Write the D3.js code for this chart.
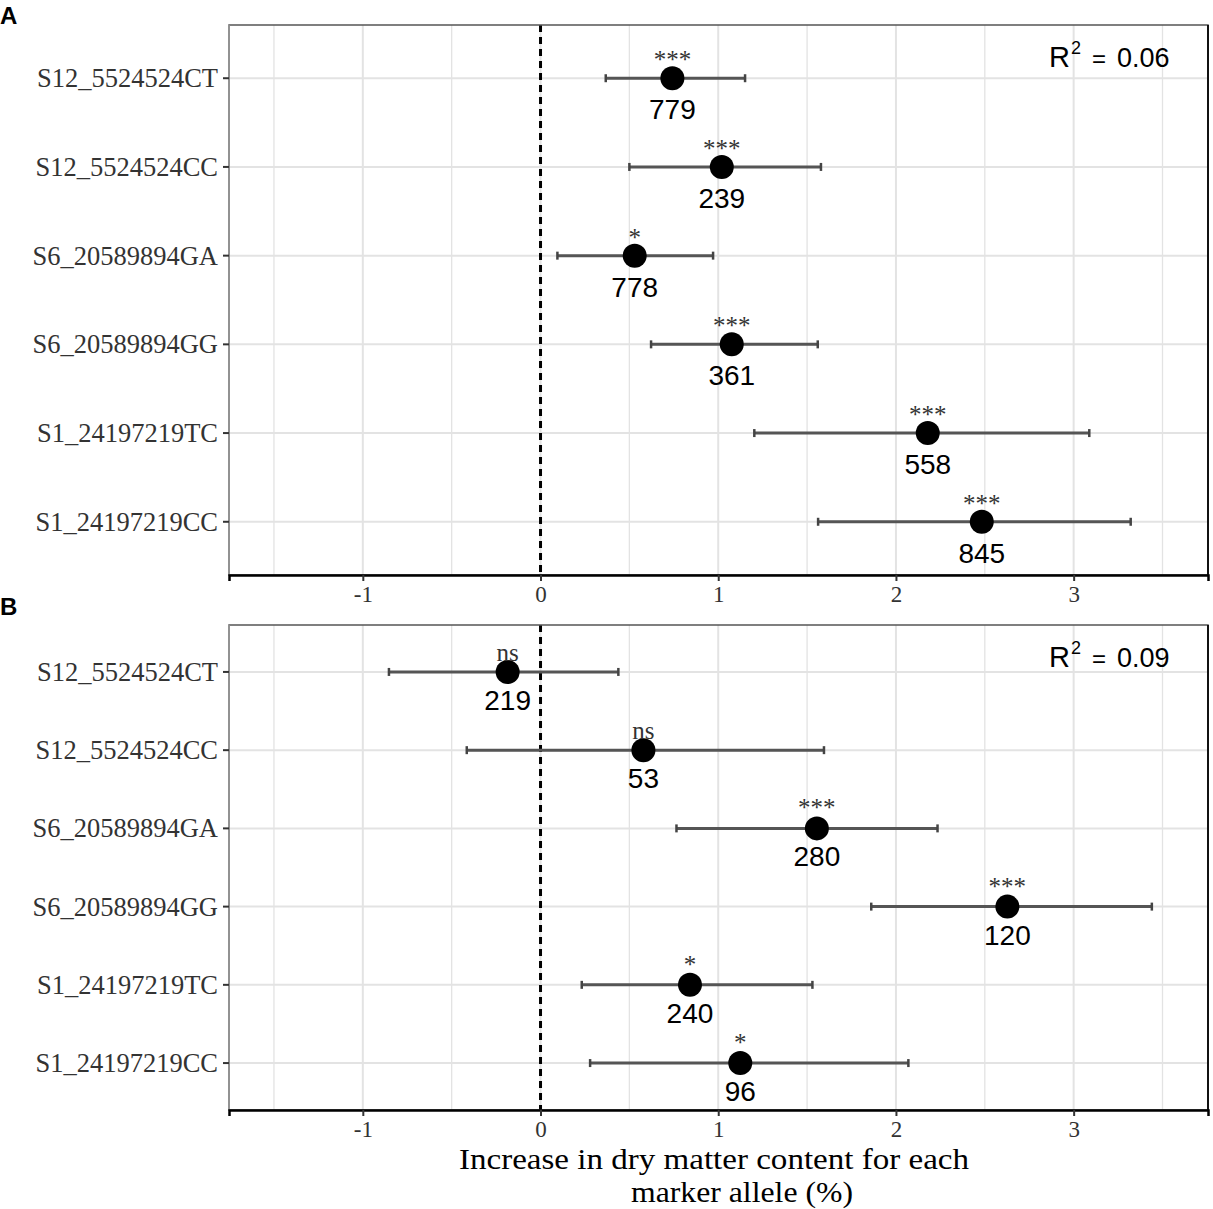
<!DOCTYPE html>
<html>
<head>
<meta charset="utf-8">
<script src="https://cdn.jsdelivr.net/npm/d3@7"></script>
<style>
  body { margin: 0; background: #fff; }
  .ylab { font-family: "Liberation Serif", "Times New Roman", serif; font-size: 26.5px; fill: #333; }
  .tick text { font-family: "Liberation Serif", "Times New Roman", serif; font-size: 23px; fill: #333; }
  .nlab { font-family: "Liberation Sans", Arial, sans-serif; font-size: 28px; fill: #000; }
  .sig { font-family: "Liberation Serif", "Times New Roman", serif; font-size: 25px; fill: #333; }
  .rsq { font-family: "Liberation Sans", Arial, sans-serif; fill: #000; }
  .panel { font-family: "Liberation Sans", Arial, sans-serif; font-size: 24px; font-weight: bold; }
  .xtitle { font-family: "Liberation Serif", "Times New Roman", serif; font-size: 30px; fill: #000; }
</style>
</head>
<body>
<div id="chart"></div>
<script>
// markers, top to bottom
var markers = ["S12_5524524CT", "S12_5524524CC", "S6_20589894GA",
               "S6_20589894GG", "S1_24197219TC", "S1_24197219CC"];
var xTicks = [-1, 0, 1, 2, 3];

// panel A
var effectA = [0.742, 1.020, 0.530, 1.076, 2.179, 2.483];
var lowA    = [0.367, 0.500, 0.095, 0.622, 1.203, 1.562];
var highA   = [1.151, 1.578, 0.971, 1.560, 3.088, 3.321];
var countA  = [779, 239, 778, 361, 558, 845];
var sigA    = ["***", "***", "*", "***", "***", "***"];

// panel B
var effectB = [-0.185, 0.579, 1.555, 2.627, 0.841, 1.124];
var lowB    = [-0.853, -0.415, 0.765, 1.861, 0.232, 0.279];
var highB   = [0.438, 1.595, 2.234, 3.440, 1.530, 2.070];
var countB  = [219, 53, 280, 120, 240, 96];
var sigB    = ["ns", "ns", "***", "***", "*", "*"];

var width = 1213, height = 1209;
var left = 229, right = 1208;

var svg = d3.select("#chart").append("svg")
    .attr("width", width)
    .attr("height", height);

var x = d3.scaleLinear().domain([-1.753, 3.756]).range([left, right]);

function drawPanel(cfg) {
    var rows = markers.map(function(m, i) {
        return { m: m, eff: cfg.eff[i], lo: cfg.lo[i], hi: cfg.hi[i], n: cfg.n[i], sig: cfg.sig[i] };
    });
    var y = d3.scalePoint().domain(markers).range([cfg.top, cfg.bottom]).padding(0.6);
    var g = svg.append("g");

    // grid: major + minor every 0.5
    g.selectAll("line.vgrid")
        .data(d3.range(-1.5, 3.51, 0.5))
        .enter().append("line")
        .attr("x1", function(d) { return x(d); })
        .attr("x2", function(d) { return x(d); })
        .attr("y1", cfg.top).attr("y2", cfg.bottom)
        .attr("stroke", "#e3e3e3")
        .attr("stroke-width", function(d) { return d % 1 === 0 ? 2 : 1.3; });
    g.selectAll("line.hgrid")
        .data(markers)
        .enter().append("line")
        .attr("x1", left).attr("x2", right)
        .attr("y1", function(d) { return y(d); })
        .attr("y2", function(d) { return y(d); })
        .attr("stroke", "#e3e3e3")
        .attr("stroke-width", 2);

    // zero line
    g.append("line")
        .attr("x1", x(0)).attr("x2", x(0))
        .attr("y1", cfg.top).attr("y2", cfg.bottom)
        .attr("stroke", "#000")
        .attr("stroke-width", 3)
        .attr("stroke-dasharray", "7,5");

    // border
    g.append("rect")
        .attr("x", left).attr("y", cfg.top)
        .attr("width", right - left).attr("height", cfg.bottom - cfg.top)
        .attr("fill", "none")
        .attr("stroke", "#555")
        .attr("stroke-width", 1.5);
    g.append("line")
        .attr("x1", left).attr("x2", left)
        .attr("y1", cfg.top).attr("y2", cfg.bottom)
        .attr("stroke", "#999").attr("stroke-width", 1.5);
    g.append("line")
        .attr("x1", right).attr("x2", right)
        .attr("y1", cfg.top).attr("y2", cfg.bottom)
        .attr("stroke", "#111").attr("stroke-width", 2);

    // error bars
    var bar = g.selectAll("g.row").data(rows).enter().append("g");
    bar.append("line")
        .attr("x1", function(d) { return x(d.lo); })
        .attr("x2", function(d) { return x(d.hi); })
        .attr("y1", function(d) { return y(d.m); })
        .attr("y2", function(d) { return y(d.m); })
        .attr("stroke", "#555")
        .attr("stroke-width", 3);
    ["lo", "hi"].forEach(function(k) {
        bar.append("line")
            .attr("x1", function(d) { return x(d[k]); })
            .attr("x2", function(d) { return x(d[k]); })
            .attr("y1", function(d) { return y(d.m) - 4; })
            .attr("y2", function(d) { return y(d.m) + 4; })
            .attr("stroke", "#444")
            .attr("stroke-width", 2.5);
    });
    bar.append("circle")
        .attr("cx", function(d) { return x(d.eff); })
        .attr("cy", function(d) { return y(d.m); })
        .attr("r", 12)
        .attr("fill", "#000");

    bar.append("text")
        .attr("class", "nlab")
        .attr("text-anchor", "middle")
        .attr("x", function(d) { return x(d.eff); })
        .attr("y", function(d) { return y(d.m) + cfg.nOff; })
        .text(function(d) { return d.n; });
    bar.append("text")
        .attr("class", "sig")
        .attr("text-anchor", "middle")
        .attr("x", function(d) { return x(d.eff); })
        .attr("y", function(d) { return y(d.m) + (d.sig === "ns" ? cfg.nsOff : cfg.sigOff); })
        .text(function(d) { return d.sig; });

    // y axis labels + ticks
    g.selectAll("line.ytick")
        .data(markers).enter().append("line")
        .attr("x1", left - 6).attr("x2", left)
        .attr("y1", function(d) { return y(d); })
        .attr("y2", function(d) { return y(d); })
        .attr("stroke", "#333").attr("stroke-width", 2);
    g.selectAll("text.ylab")
        .data(markers).enter().append("text")
        .attr("class", "ylab")
        .attr("text-anchor", "end")
        .attr("x", left - 11)
        .attr("y", function(d) { return y(d) + 9; })
        .text(function(d) { return d; });

    // x axis
    var ax = g.append("g")
        .attr("transform", "translate(0," + cfg.bottom + ")")
        .call(d3.axisBottom(x).tickValues(xTicks).tickSize(6).tickPadding(5)
              .tickFormat(function(d) { return String(d); }));
    ax.select(".domain").attr("stroke", "#000").attr("stroke-width", 2.5);
    ax.selectAll(".tick line").attr("stroke", "#333").attr("stroke-width", 2);

    // R squared
    var r = g.append("text").attr("class", "rsq").attr("y", cfg.top + 42);
    r.append("tspan").attr("x", 1049).attr("font-size", 29).text("R");
    r.append("tspan").attr("x", 1071).attr("font-size", 18).attr("dy", -13).text("2");
    r.append("tspan").attr("x", 1092).attr("font-size", 24).attr("dy", 13).text("=");
    r.append("tspan").attr("x", 1117).attr("font-size", 27).text(cfg.r2);

    svg.append("text").attr("class", "panel")
        .attr("x", 0).attr("y", cfg.labelY)
        .text(cfg.label);
}

drawPanel({ label: "A", labelY: 24, top: 25, bottom: 575, eff: effectA, lo: lowA, hi: highA,
            n: countA, sig: sigA, r2: "0.06", nOff: 41, sigOff: -10, nsOff: -12 });
drawPanel({ label: "B", labelY: 615, top: 625, bottom: 1110, eff: effectB, lo: lowB, hi: highB,
            n: countB, sig: sigB, r2: "0.09", nOff: 38, sigOff: -12, nsOff: -11 });

// x axis title, two lines
svg.append("text").attr("class", "xtitle")
    .attr("text-anchor", "middle")
    .attr("x", 714).attr("y", 1169)
    .attr("textLength", 510).attr("lengthAdjust", "spacingAndGlyphs")
    .text("Increase in dry matter content for each");
svg.append("text").attr("class", "xtitle")
    .attr("text-anchor", "middle")
    .attr("x", 742).attr("y", 1202)
    .attr("textLength", 222).attr("lengthAdjust", "spacingAndGlyphs")
    .text("marker allele (%)");
</script>
</body>
</html>
